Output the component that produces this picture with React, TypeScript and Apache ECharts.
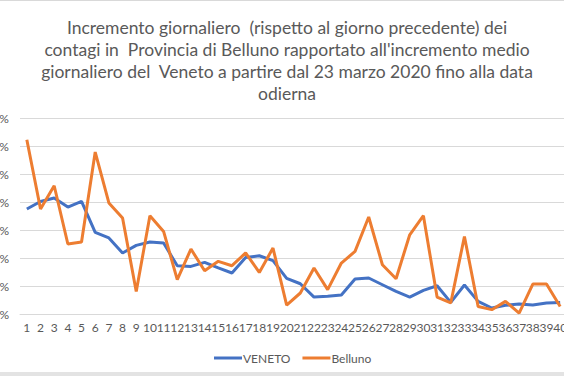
import React, { useEffect, useRef } from "react";
import * as echarts from "echarts";

const titleText =
  "Incremento giornaliero  (rispetto al giorno precedente) dei\ncontagi in  Provincia di Belluno rapportato all'incremento medio\ngiornaliero del  Veneto a partire dal 23 marzo 2020 fino alla data\nodierna";

const days = Array.from({ length: 40 }, (_, i) => String(i + 1));

const veneto = [
  7.5, 8.04, 8.29, 7.64, 8.04, 5.83, 5.43, 4.36, 4.9, 5.14,
  5.07, 3.45, 3.4, 3.69, 3.29, 2.93, 4.04, 4.16, 3.81, 2.55,
  2.16, 1.21, 1.26, 1.36, 2.5, 2.57, 2.09, 1.61, 1.21, 1.69,
  2.02, 0.83, 2.07, 0.9, 0.43, 0.62, 0.71, 0.64, 0.79, 0.83,
];

const belluno = [
  12.45, 7.5, 9.16, 5.0, 5.14, 11.57, 7.93, 6.86, 1.61, 7.02,
  5.9, 2.45, 4.64, 3.09, 3.76, 3.45, 4.36, 2.97, 4.71, 0.64,
  1.5, 3.29, 1.74, 3.64, 4.47, 6.93, 3.52, 2.52, 5.66, 7.02,
  1.21, 0.79, 5.54, 0.54, 0.31, 0.9, 0.07, 2.14, 2.14, 0.54,
];

const FONT = "Lato, 'Open Sans', sans-serif";
const GRAY = "#595959";

export default function App() {
  const ref = useRef<HTMLDivElement>(null);
  useEffect(() => {
    if (!ref.current) return;
    const chart = echarts.init(ref.current, null, { renderer: "svg" });
    chart.setOption({
      animation: false,
      backgroundColor: "#ffffff",
      title: {
        text: titleText,
        left: 282,
        top: 11,
        textAlign: "center",
        textStyle: {
          fontFamily: FONT,
          fontSize: 17.5,
          fontWeight: "normal",
          color: GRAY,
          lineHeight: 22,
        },
      },
      legend: {
        left: 209,
        top: 347,
        itemWidth: 28,
        itemHeight: 3,
        itemGap: 12,
        icon: "rect",
        textStyle: { fontFamily: FONT, fontSize: 12, color: GRAY, padding: [0, 0, 0, -4] },
        data: ["VENETO", "Belluno"],
      },
      grid: {
        left: 20,
        top: 118,
        width: 547,
        height: 196,
        containLabel: false,
        outerBoundsMode: "none",
      },
      xAxis: {
        type: "category",
        data: days,
        boundaryGap: true,
        axisLine: { show: true, lineStyle: { color: "#d9d9d9", width: 1 } },
        axisTick: { show: false },
        axisLabel: {
          interval: 0,
          fontFamily: FONT,
          fontSize: 12,
          color: GRAY,
          margin: 7,
        },
      },
      yAxis: {
        type: "value",
        min: 0,
        max: 14,
        interval: 2,
        axisLine: { show: false },
        axisTick: { show: false },
        splitLine: { lineStyle: { color: "#d9d9d9", width: 1 } },
        axisLabel: {
          formatter: "{value}%",
          fontFamily: FONT,
          fontSize: 12,
          color: GRAY,
          margin: 11,
        },
      },
      series: [
        {
          name: "VENETO",
          type: "line",
          data: veneto,
          symbol: "none",
          lineStyle: { color: "#4472C4", width: 3 },
          itemStyle: { color: "#4472C4" },
        },
        {
          name: "Belluno",
          type: "line",
          data: belluno,
          symbol: "none",
          lineStyle: { color: "#ED7D31", width: 3 },
          itemStyle: { color: "#ED7D31" },
        },
      ],
      graphic: [
        { type: "rect", left: 0, top: 0, shape: { width: 564, height: 1 }, style: { fill: "#d9d9d9" } },
        { type: "rect", left: 0, top: 372, shape: { width: 564, height: 4 }, style: { fill: "#e3e3e3" } },
      ],
    });
    return () => chart.dispose();
  }, []);
  return (
    <div style={{ position: "fixed", left: 0, top: 0, width: 564, height: 376, overflow: "hidden" }}>
      <div ref={ref} style={{ width: 600, height: 376 }} />
    </div>
  );
}
